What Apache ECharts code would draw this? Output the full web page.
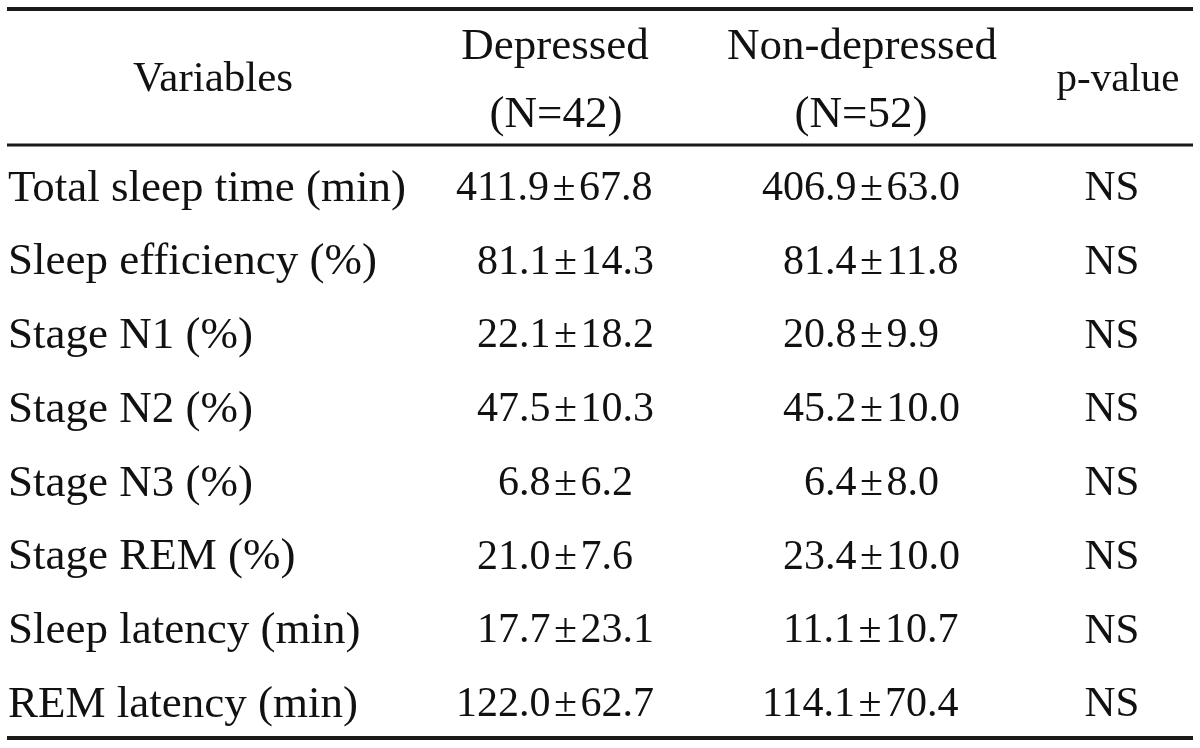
<!DOCTYPE html>
<html>
<head>
<meta charset="utf-8">
<script src="https://cdn.jsdelivr.net/npm/echarts@6/dist/echarts.min.js"></script>
<style>
html,body{margin:0;padding:0;background:#fff;}
#chart{width:1200px;height:748px;}
</style>
</head>
<body>
<div id="chart"></div>
<script>
// ---- data ----
const rowLabels = ['Total sleep time (min)', 'Sleep efficiency (%)', 'Stage N1 (%)', 'Stage N2 (%)',
  'Stage N3 (%)', 'Stage REM (%)', 'Sleep latency (min)', 'REM latency (min)'];
const depressedMean = [411.9, 81.1, 22.1, 47.5, 6.8, 21.0, 17.7, 122.0];
const depressedSD   = [67.8, 14.3, 18.2, 10.3, 6.2, 7.6, 23.1, 62.7];
const nonDepMean    = [406.9, 81.4, 20.8, 45.2, 6.4, 23.4, 11.1, 114.1];
const nonDepSD      = [63.0, 11.8, 9.9, 10.0, 8.0, 10.0, 10.7, 70.4];
const pValues       = ['NS', 'NS', 'NS', 'NS', 'NS', 'NS', 'NS', 'NS'];
const headerVariables = 'Variables';
const headerDepressed = ['Depressed', '(N=42)'];
const headerNonDep    = ['Non-depressed', '(N=52)'];
const headerP         = 'p-value';

// ---- style / layout ----
const FONT = "'Liberation Serif', 'Times New Roman', serif";
const TXT = 45;     // row label font size
const NUM = 42;     // number font size
const PS = 43;      // p-value cell font size
const INK = '#111';
const colVarX = 8, colDepX = 456, colNonX = 762, colPX = 1112;

function fmt(m, s) { return m.toFixed(1) + '\u200A\u00B1\u200A' + s.toFixed(1); }
function intDigits(m) { return String(Math.floor(m)).length; }

function textSeries(xs, texts, size, align) {
  return {
    type: 'custom',
    coordinateSystem: 'cartesian2d',
    data: xs.map((x, i) => [x, i]),
    silent: true,
    renderItem: function (params, api) {
      const p = api.coord([api.value(0), api.value(1)]);
      return {
        type: 'text', x: p[0], y: p[1],
        style: { text: texts[params.dataIndex], fontFamily: FONT, fontSize: size,
                 fill: INK, align: align, verticalAlign: 'middle' }
      };
    }
  };
}
function numSeries(anchor, means, sds) {
  const dw = NUM * 0.5;
  const xs = means.map(m => anchor + (3 - intDigits(m)) * dw);
  const texts = means.map((m, i) => fmt(m, sds[i]));
  return textSeries(xs, texts, NUM, 'left');
}

const chart = echarts.init(document.getElementById('chart'));
const hdr = (x, y, t, size) => ({
  type: 'text', x: x, y: y,
  style: { text: t, fontFamily: FONT, fontSize: size, fill: INK, align: 'center', verticalAlign: 'middle' }
});
const rule = (y, w) => ({
  type: 'line', shape: { x1: 7, y1: y, x2: 1193, y2: y },
  style: { stroke: '#1a1a1a', lineWidth: w }
});
chart.setOption({
  animation: false,
  backgroundColor: '#fff',
  grid: { left: 0, right: 0, top: 152, bottom: 6 },
  xAxis: { type: 'value', min: 0, max: 1200, show: false },
  yAxis: { type: 'category', data: rowLabels, inverse: true, show: false },
  graphic: [
    rule(9, 4), rule(145, 3), rule(738, 4),
    hdr(213, 80, headerVariables, 43),
    hdr(555, 47, headerDepressed[0], 45),
    hdr(556, 115, headerDepressed[1], 45),
    hdr(862, 47, headerNonDep[0], 45),
    hdr(861, 115, headerNonDep[1], 45),
    hdr(1118, 80, headerP, 41)
  ],
  series: [
    textSeries(rowLabels.map(() => colVarX), rowLabels, TXT, 'left'),
    numSeries(colDepX, depressedMean, depressedSD),
    numSeries(colNonX, nonDepMean, nonDepSD),
    textSeries(pValues.map(() => colPX), pValues, PS, 'center')
  ]
});
</script>
</body>
</html>
